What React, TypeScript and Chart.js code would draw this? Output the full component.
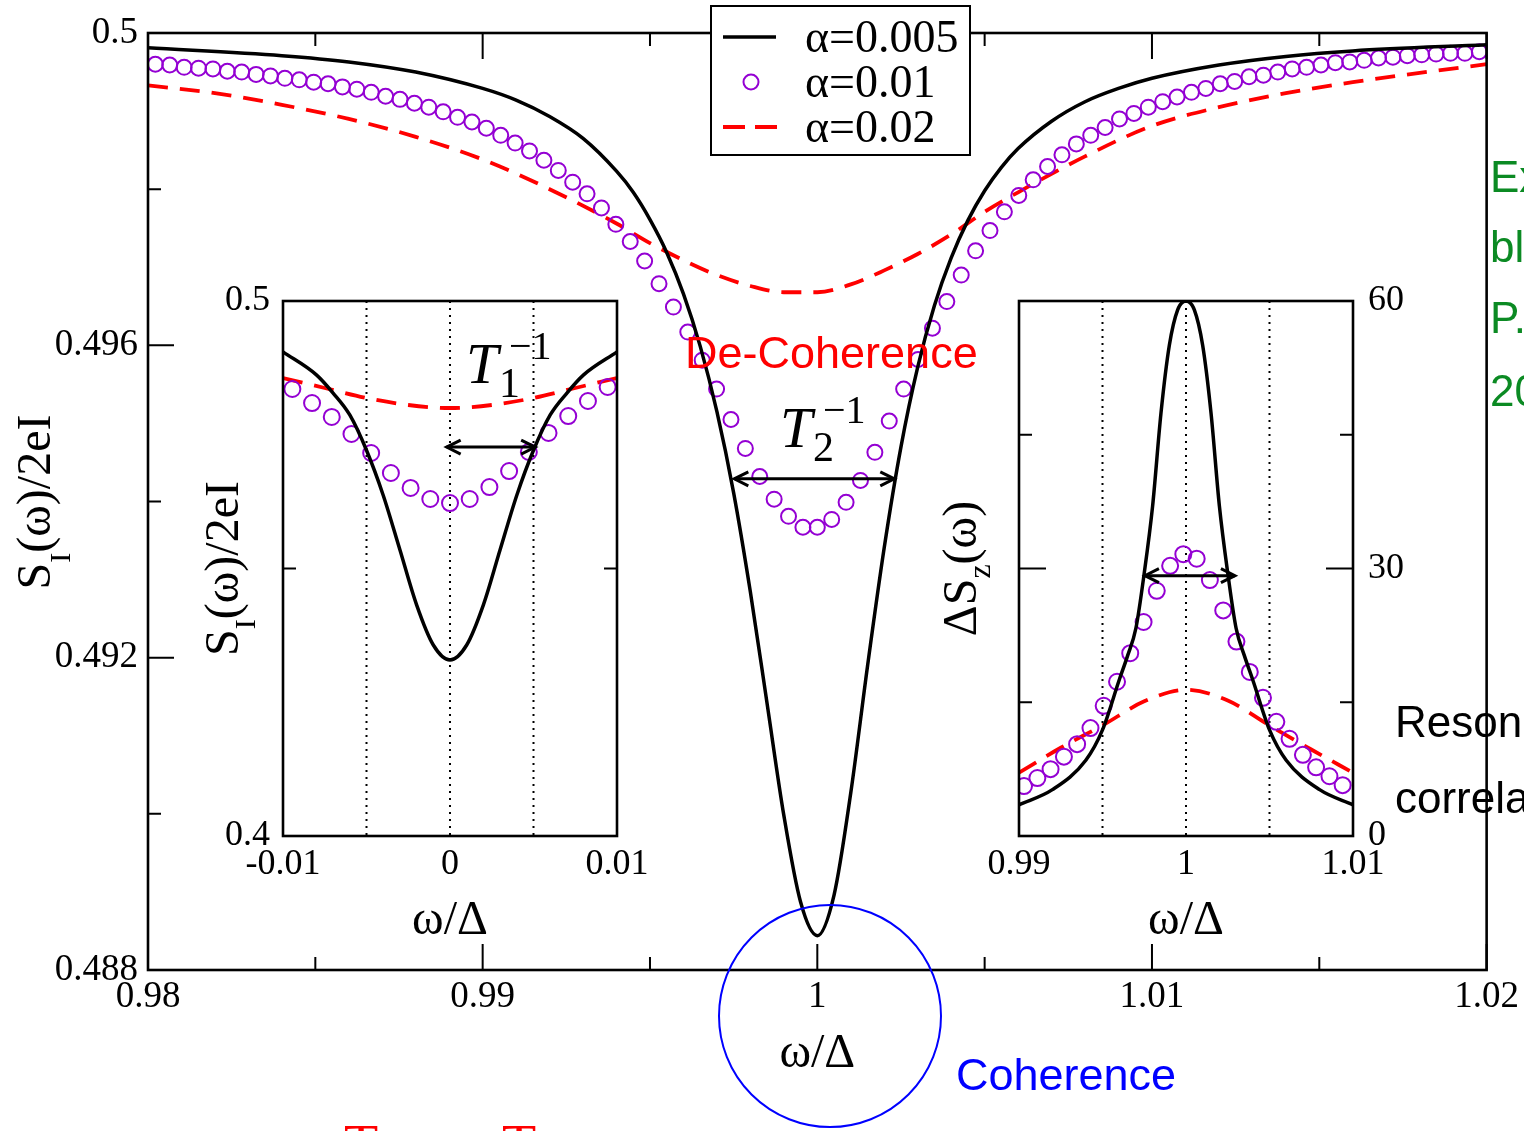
import React, { useEffect, useRef } from "react";
import { Chart, registerables } from "chart.js";

Chart.register(...registerables);

const SERIF = "'Liberation Serif', 'Times New Roman', Times, serif";
const SANS = "'Liberation Sans', Arial, Helvetica, sans-serif";
const PURPLE = "#9400d3";
const RED = "#ff0000";
const GREEN = "#0b8a23";

// ---------------- main panel ----------------
const mainXTicks = [0.98, 0.99, 1.0, 1.01, 1.02];
const mainXTickLabels = ["0.98", "0.99", "1", "1.01", "1.02"];
const mainXMinor = [0.985, 0.995, 1.005, 1.015];
const mainYTicks = [0.488, 0.492, 0.496, 0.5];
const mainYTickLabels = ["0.488", "0.492", "0.496", "0.5"];
const mainYMinor = [0.49, 0.494, 0.498];

// alpha = 0.005 (solid black)
const blackX = [0.98, 0.984, 0.986, 0.988, 0.99, 0.991, 0.992, 0.993, 0.994, 0.9945, 0.995, 0.9955, 0.996, 0.9965, 0.997, 0.9975, 0.998, 0.9985, 0.999, 0.9995, 1.0,
  1.0005, 1.001, 1.0015, 1.002, 1.0025, 1.003, 1.0035, 1.004, 1.0045, 1.005, 1.0055, 1.006, 1.007, 1.008, 1.009, 1.01, 1.012, 1.014, 1.016, 1.02];
const blackY = [0.49981, 0.49971, 0.49963, 0.4995, 0.49929, 0.49914, 0.49893, 0.49865, 0.49823, 0.49796, 0.49761, 0.49719, 0.49666, 0.49599, 0.49515, 0.49411, 0.49284, 0.49141, 0.48998, 0.48887, 0.48844,
  0.48896, 0.49027, 0.49189, 0.49341, 0.4947, 0.49572, 0.49651, 0.49712, 0.4976, 0.49798, 0.49828, 0.49852, 0.49887, 0.49912, 0.49929, 0.49942, 0.49959, 0.4997, 0.49977, 0.49985];

// alpha = 0.01 (violet circles)
const circleX = [
  0.98022, 0.98065, 0.98108, 0.98151, 0.98194, 0.98237, 0.9828, 0.98323, 0.98366, 0.98409,
  0.98452, 0.98495, 0.98538, 0.98581, 0.98624, 0.98667, 0.9871, 0.98753, 0.98796, 0.98839,
  0.98882, 0.98925, 0.98968, 0.99011, 0.99054, 0.99097, 0.9914, 0.99183, 0.99226, 0.99269,
  0.99312, 0.99355, 0.99398, 0.99441, 0.99484, 0.99527, 0.9957, 0.99613, 0.99656, 0.99699,
  0.99742, 0.99785, 0.99828, 0.99871, 0.99914, 0.99957, 1.0, 1.00043, 1.00086, 1.00129,
  1.00172, 1.00215, 1.00258, 1.00301, 1.00344, 1.00387, 1.0043, 1.00473, 1.00516, 1.00559,
  1.00602, 1.00645, 1.00688, 1.00731, 1.00774, 1.00817, 1.0086, 1.00903, 1.00946, 1.00989,
  1.01032, 1.01075, 1.01118, 1.01161, 1.01204, 1.01247, 1.0129, 1.01333, 1.01376, 1.01419,
  1.01462, 1.01505, 1.01548, 1.01591, 1.01634, 1.01677, 1.0172, 1.01763, 1.01806, 1.01849,
  1.01892, 1.01935, 1.01978,
];
const circleY = [
  0.4996, 0.49959, 0.49956, 0.49955, 0.49954, 0.49951, 0.4995, 0.49947, 0.49945, 0.49942,
  0.4994, 0.49937, 0.49935, 0.49931, 0.49928, 0.49924, 0.49919, 0.49915, 0.4991, 0.49905,
  0.49899, 0.49892, 0.49886, 0.49878, 0.49869, 0.49859, 0.49849, 0.49837, 0.49824, 0.49809,
  0.49794, 0.49776, 0.49755, 0.49733, 0.49708, 0.49679, 0.49649, 0.49617, 0.49581, 0.49544,
  0.49505, 0.49468, 0.49432, 0.49403, 0.49381, 0.49367, 0.49367, 0.49377, 0.49399, 0.49427,
  0.49463, 0.49503, 0.49544, 0.49582, 0.49622, 0.49656, 0.4969, 0.49721, 0.49747, 0.49771,
  0.49792, 0.49812, 0.49829, 0.49844, 0.49858, 0.49869, 0.49879, 0.4989, 0.49897, 0.49905,
  0.49912, 0.49918, 0.49924, 0.49929, 0.49935, 0.49938, 0.49944, 0.49946, 0.4995, 0.49954,
  0.49956, 0.49959, 0.49962, 0.49963, 0.49965, 0.49968, 0.49969, 0.49971, 0.49972, 0.49973,
  0.49974, 0.49974, 0.49976,
];

// alpha = 0.02 (red dashed)
const redX = [0.98, 0.982, 0.984, 0.986, 0.988, 0.99, 0.992, 0.994, 0.995, 0.996, 0.997, 0.998, 0.999, 1.0,
  1.001, 1.002, 1.003, 1.004, 1.005, 1.006, 1.008, 1.01, 1.012, 1.014, 1.016, 1.018, 1.02];
const redY = [0.49933, 0.49923, 0.49908, 0.4989, 0.49867, 0.49838, 0.498, 0.49756, 0.49731, 0.49709, 0.4969, 0.49676, 0.49668, 0.49668,
  0.49678, 0.49696, 0.49717, 0.49742, 0.49771, 0.49796, 0.49842, 0.49881, 0.49905, 0.49923, 0.49937, 0.49949, 0.4996];

const legendLabels = ["α=0.005", "α=0.01", "α=0.02"];
// T2^-1 arrow: [x from, x to, y]
const t2Arrow = [0.99752, 1.0023, 0.49429];

// ---------------- left inset ----------------
const lxTicks = [-0.01, 0, 0.01];
const lxTickLabels = ["-0.01", "0", "0.01"];
const lyTicks = [0.4, 0.5];
const lyTickLabels = ["0.4", "0.5"];
const lyMinor = [0.45];
const lDotted = [-0.005, 0, 0.005];

const lBlackX = [-0.01, -0.008, -0.007, -0.006, -0.005, -0.004, -0.003, -0.002, -0.001, 0, 0.001, 0.002, 0.003, 0.004, 0.005, 0.006, 0.007, 0.008, 0.01];
const lBlackY = [0.4905, 0.4862, 0.4828, 0.4787, 0.4721, 0.4637, 0.4535, 0.4432, 0.4357, 0.4329, 0.4357, 0.4432, 0.4535, 0.4637, 0.4721, 0.4787, 0.4828, 0.4862, 0.4905];
const lCircleX = [-0.00944, -0.00826, -0.00708, -0.0059, -0.00472, -0.00354, -0.00236, -0.00118, 0, 0.00118, 0.00236, 0.00354, 0.00472, 0.0059, 0.00708, 0.00826, 0.00944];
const lCircleY = [0.48355, 0.48093, 0.47832, 0.47514, 0.47159, 0.46785, 0.46505, 0.46299, 0.46224, 0.46299, 0.46523, 0.46822, 0.47178, 0.47533, 0.4785, 0.48131, 0.48393];
const lRedX = [-0.01, -0.0075, -0.005, -0.0025, 0, 0.0025, 0.005, 0.0075, 0.01];
const lRedY = [0.48561, 0.48374, 0.48187, 0.48056, 0.48, 0.48056, 0.48187, 0.48374, 0.48561];
const t1Arrow = [-0.0002, 0.0051, 0.4727];

// ---------------- right inset ----------------
const rxTicks = [0.99, 1.0, 1.01];
const rxTickLabels = ["0.99", "1", "1.01"];
const ryTicks = [0, 30, 60];
const ryTickLabels = ["0", "30", "60"];
const ryMinor = [15, 45];
const rDotted = [0.995, 1.0, 1.005];

const rBlackX = [0.99, 0.992, 0.994, 0.995, 0.996, 0.9965, 0.997, 0.9975, 0.998, 0.9985, 0.999, 0.9995, 1.0,
  1.0005, 1.001, 1.0015, 1.002, 1.0025, 1.003, 1.0035, 1.004, 1.005, 1.006, 1.008, 1.01];
const rBlackY = [3.5, 5.2, 8.5, 11.9, 17.5, 20.2, 23.3, 29.5, 37.0, 47.4, 55.0, 59.0, 60,
  59.0, 55.0, 47.4, 37.0, 29.5, 23.3, 20.2, 17.5, 11.9, 8.5, 5.2, 3.5];
const rCircleX = [0.9903, 0.9911, 0.99189, 0.99269, 0.99348, 0.99428, 0.99507, 0.99587, 0.99666, 0.99746, 0.99825, 0.99905, 0.99984,
  1.00064, 1.00143, 1.00223, 1.00302, 1.00382, 1.00461, 1.00541, 1.0062, 1.007, 1.00779, 1.00859, 1.00938];
const rCircleY = [5.6, 6.5, 7.5, 8.9, 10.3, 12.1, 14.6, 17.3, 20.5, 24.0, 27.5, 30.3, 31.6,
  31.1, 28.7, 25.3, 21.8, 18.4, 15.5, 12.8, 10.9, 9.1, 7.7, 6.7, 5.7];
const rRedX = [0.99, 0.9925, 0.995, 0.9975, 1.0, 1.0025, 1.005, 1.0075, 1.01];
const rRedY = [7.1, 9.9, 12.4, 15.1, 16.4, 15.2, 12.4, 9.7, 7.1];
const rArrow = [0.99754, 1.00293, 29.2];

// ---------------- helpers ----------------
const pts = (xs: number[], ys: number[]) => xs.map((x, i) => ({ x, y: ys[i] }));

type Part = { t: string; font: string; dy?: number; dx?: number };
function drawParts(ctx: CanvasRenderingContext2D, parts: Part[], x: number, y: number, align: "left" | "center") {
  ctx.textAlign = "left";
  ctx.textBaseline = "alphabetic";
  let w = 0;
  for (const p of parts) {
    ctx.font = p.font;
    w += ctx.measureText(p.t).width + (p.dx || 0);
  }
  let cx = align === "center" ? x - w / 2 : x;
  for (const p of parts) {
    ctx.font = p.font;
    cx += p.dx || 0;
    ctx.fillText(p.t, cx, y + (p.dy || 0));
    cx += ctx.measureText(p.t).width;
  }
}

function drawArrow(ctx: CanvasRenderingContext2D, x1: number, x2: number, y: number) {
  ctx.save();
  ctx.strokeStyle = "#000";
  ctx.lineWidth = 3;
  ctx.setLineDash([]);
  ctx.beginPath();
  ctx.moveTo(x1, y);
  ctx.lineTo(x2, y);
  ctx.stroke();
  const h = 14, w = 7;
  ctx.beginPath();
  ctx.moveTo(x1 + h, y - w);
  ctx.lineTo(x1, y);
  ctx.lineTo(x1 + h, y + w);
  ctx.moveTo(x2 - h, y - w);
  ctx.lineTo(x2, y);
  ctx.lineTo(x2 - h, y + w);
  ctx.stroke();
  ctx.restore();
}

function linearScale(o: {
  min: number; max: number; ticks: number[]; labels: string[]; size: number; horiz: boolean;
  fontSize: number; padding: number; position?: string;
}) {
  return {
    type: "linear",
    min: o.min,
    max: o.max,
    position: o.position ?? (o.horiz ? "bottom" : "left"),
    grid: { display: false, drawTicks: false },
    border: { display: false },
    afterBuildTicks: (s: any) => {
      s.ticks = o.ticks.map((v) => ({ value: v }));
    },
    afterFit: (s: any) => {
      if (o.horiz) s.height = o.size;
      else s.width = o.size;
    },
    ticks: {
      autoSkip: false,
      maxRotation: 0,
      minRotation: 0,
      padding: o.padding,
      color: "#000",
      font: { family: SERIF, size: o.fontSize },
      callback: (_v: any, i: number) => o.labels[i],
    },
  };
}

type FrameCfg = {
  xBottom: [number, number][];
  xTop: [number, number][];
  yLeft: [number, number][];
  yRight: [number, number][];
  dotted: number[];
  extra: (chart: any) => void;
};

function framePlugin(id: string, cfg: FrameCfg) {
  return {
    id,
    beforeDatasetsDraw(chart: any) {
      const { ctx, chartArea: a, scales } = chart;
      ctx.save();
      ctx.strokeStyle = "#000";
      ctx.lineWidth = 2;
      ctx.setLineDash([2, 5]);
      for (const v of cfg.dotted) {
        const px = scales.x.getPixelForValue(v);
        ctx.beginPath();
        ctx.moveTo(px, a.top);
        ctx.lineTo(px, a.bottom);
        ctx.stroke();
      }
      ctx.restore();
    },
    afterDatasetsDraw(chart: any) {
      const { ctx, chartArea: a, scales } = chart;
      ctx.save();
      ctx.strokeStyle = "#000";
      ctx.setLineDash([]);
      ctx.lineWidth = 2;
      ctx.beginPath();
      for (const [v, len] of cfg.xBottom) {
        const px = scales.x.getPixelForValue(v);
        ctx.moveTo(px, a.bottom);
        ctx.lineTo(px, a.bottom - len);
      }
      for (const [v, len] of cfg.xTop) {
        const px = scales.x.getPixelForValue(v);
        ctx.moveTo(px, a.top);
        ctx.lineTo(px, a.top + len);
      }
      for (const [v, len] of cfg.yLeft) {
        const py = scales.y.getPixelForValue(v);
        ctx.moveTo(a.left, py);
        ctx.lineTo(a.left + len, py);
      }
      for (const [v, len] of cfg.yRight) {
        const py = scales.y.getPixelForValue(v);
        ctx.moveTo(a.right, py);
        ctx.lineTo(a.right - len, py);
      }
      ctx.stroke();
      ctx.lineWidth = 2.6;
      ctx.strokeRect(a.left, a.top, a.right - a.left, a.bottom - a.top);
      ctx.restore();
    },
    afterDraw(chart: any) {
      const ctx = chart.ctx;
      ctx.save();
      cfg.extra(chart);
      ctx.restore();
    },
  };
}

function datasets(bx: number[], by: number[], cx: number[], cy: number[], rx: number[], ry: number[], r: number) {
  return [
    {
      label: legendLabels[0],
      data: pts(bx, by),
      borderColor: "#000",
      borderWidth: 3.5,
      pointRadius: 0,
      cubicInterpolationMode: "monotone",
      fill: false,
    },
    {
      label: legendLabels[1],
      data: pts(cx, cy),
      showLine: false,
      pointRadius: r,
      pointStyle: "circle",
      pointBorderColor: PURPLE,
      pointBackgroundColor: "rgba(0,0,0,0)",
      pointBorderWidth: 2,
    },
    {
      label: legendLabels[2],
      data: pts(rx, ry),
      borderColor: RED,
      borderWidth: 3.8,
      borderDash: [20, 12],
      pointRadius: 0,
      cubicInterpolationMode: "monotone",
      fill: false,
    },
  ];
}

const commonOptions = {
  responsive: false,
  animation: false,
  devicePixelRatio: 1,
  events: [],
  plugins: { legend: { display: false }, tooltip: { enabled: false } },
};

function supLabel(ctx: CanvasRenderingContext2D, sub: string, x: number, y: number) {
  ctx.fillStyle = "#000";
  ctx.textAlign = "left";
  ctx.textBaseline = "alphabetic";
  ctx.font = `italic 58px ${SERIF}`;
  ctx.fillText("T", x, y);
  ctx.font = `42px ${SERIF}`;
  ctx.fillText(sub, x + 33, y + 14);
  ctx.font = `40px ${SERIF}`;
  ctx.fillText("−1", x + 43, y - 24);
}

function mainExtra(chart: any) {
  const { ctx, chartArea: a, scales } = chart;
  const { x, y } = scales;
  ctx.fillStyle = "#000";

  // y title
  ctx.save();
  ctx.translate(50, 502);
  ctx.rotate(-Math.PI / 2);
  drawParts(ctx, [
    { t: "S", font: `48px ${SERIF}` },
    { t: "I", font: `30px ${SERIF}`, dy: 20 },
    { t: "(ω)/2eI", font: `48px ${SERIF}` },
  ], 0, 0, "center");
  ctx.restore();

  // x title
  ctx.font = `48px ${SERIF}`;
  ctx.textAlign = "center";
  ctx.textBaseline = "alphabetic";
  ctx.fillText("ω/Δ", (a.left + a.right) / 2, 1067);

  // T2 arrow + label
  drawArrow(ctx, x.getPixelForValue(t2Arrow[0]), x.getPixelForValue(t2Arrow[1]), y.getPixelForValue(t2Arrow[2]));
  supLabel(ctx, "2", 780, 447);

  // De-Coherence
  ctx.fillStyle = RED;
  ctx.textAlign = "left";
  ctx.font = `45px ${SANS}`;
  ctx.fillText("De-Coherence", 685, 368);

  // Coherence + circle
  ctx.fillStyle = "#0000ff";
  ctx.fillText("Coherence", 956, 1090);
  ctx.strokeStyle = "#0000ff";
  ctx.lineWidth = 2;
  ctx.beginPath();
  ctx.arc(830, 1016, 111, 0, Math.PI * 2);
  ctx.stroke();

  // cut-off side notes
  ctx.fillStyle = GREEN;
  ctx.font = `44px ${SANS}`;
  ctx.fillText("Exp", 1490, 192);
  ctx.fillText("blo", 1490, 262);
  ctx.fillText("P.", 1490, 333);
  ctx.fillText("20", 1490, 406);
  ctx.fillStyle = "#000";
  ctx.fillText("Resonant", 1395, 737);
  ctx.fillText("correlation", 1395, 813);

  // red T tops at the bottom edge
  ctx.fillStyle = RED;
  ctx.font = `56px ${SERIF}`;
  ctx.fillText("T", 344, 1164);
  ctx.fillText("T", 502, 1164);

  // legend
  ctx.fillStyle = "#fff";
  ctx.fillRect(711, 6, 259, 149);
  ctx.strokeStyle = "#000";
  ctx.lineWidth = 2;
  ctx.setLineDash([]);
  ctx.strokeRect(711, 6, 259, 149);
  ctx.lineWidth = 3.5;
  ctx.beginPath();
  ctx.moveTo(723, 37);
  ctx.lineTo(776, 37);
  ctx.stroke();
  ctx.strokeStyle = PURPLE;
  ctx.lineWidth = 2;
  ctx.beginPath();
  ctx.arc(751, 82, 7.5, 0, Math.PI * 2);
  ctx.stroke();
  ctx.strokeStyle = RED;
  ctx.lineWidth = 3.8;
  ctx.setLineDash([22, 10]);
  ctx.beginPath();
  ctx.moveTo(723, 127);
  ctx.lineTo(777, 127);
  ctx.stroke();
  ctx.setLineDash([]);
  ctx.fillStyle = "#000";
  ctx.font = `46px ${SERIF}`;
  ctx.textAlign = "left";
  ctx.fillText(legendLabels[0], 805, 52);
  ctx.fillText(legendLabels[1], 805, 97);
  ctx.fillText(legendLabels[2], 805, 142);
}

function leftExtra(chart: any) {
  const { ctx, chartArea: a, scales } = chart;
  const { x, y } = scales;
  ctx.fillStyle = "#000";
  ctx.save();
  ctx.translate(238, (a.top + a.bottom) / 2);
  ctx.rotate(-Math.PI / 2);
  drawParts(ctx, [
    { t: "S", font: `48px ${SERIF}` },
    { t: "I", font: `30px ${SERIF}`, dy: 17 },
    { t: "(ω)/2eI", font: `48px ${SERIF}` },
  ], 0, 0, "center");
  ctx.restore();
  ctx.font = `48px ${SERIF}`;
  ctx.textAlign = "center";
  ctx.textBaseline = "alphabetic";
  ctx.fillText("ω/Δ", (a.left + a.right) / 2, 934);

  drawArrow(ctx, x.getPixelForValue(t1Arrow[0]), x.getPixelForValue(t1Arrow[1]), y.getPixelForValue(t1Arrow[2]));
  supLabel(ctx, "1", 466, 383);
}

function rightExtra(chart: any) {
  const { ctx, chartArea: a, scales } = chart;
  const { x, y } = scales;
  ctx.fillStyle = "#000";
  ctx.save();
  ctx.translate(976, (a.top + a.bottom) / 2);
  ctx.rotate(-Math.PI / 2);
  drawParts(ctx, [
    { t: "ΔS", font: `48px ${SERIF}` },
    { t: "z", font: `32px ${SERIF}`, dy: 14 },
    { t: "(ω)", font: `48px ${SERIF}` },
  ], 0, 0, "center");
  ctx.restore();
  ctx.font = `48px ${SERIF}`;
  ctx.textAlign = "center";
  ctx.textBaseline = "alphabetic";
  ctx.fillText("ω/Δ", (a.left + a.right) / 2, 934);
  drawArrow(ctx, x.getPixelForValue(rArrow[0]), x.getPixelForValue(rArrow[1]), y.getPixelForValue(rArrow[2]));
}

function mainConfig(): any {
  return {
    type: "line",
    data: { datasets: datasets(blackX, blackY, circleX, circleY, redX, redY, 7.5) },
    options: {
      ...commonOptions,
      layout: { padding: { left: 0, top: 33, right: 36, bottom: 0 } },
      scales: {
        x: linearScale({ min: 0.98, max: 1.02, ticks: mainXTicks, labels: mainXTickLabels, size: 161, horiz: true, fontSize: 37, padding: 5 }),
        y: linearScale({ min: 0.488, max: 0.5, ticks: mainYTicks, labels: mainYTickLabels, size: 148, horiz: false, fontSize: 37, padding: 10 }),
      },
    },
    plugins: [
      framePlugin("mainFrame", {
        xBottom: [...mainXTicks.map((v) => [v, 26] as [number, number]), ...mainXMinor.map((v) => [v, 13] as [number, number])],
        xTop: [...mainXTicks.map((v) => [v, 26] as [number, number]), ...mainXMinor.map((v) => [v, 13] as [number, number])],
        yLeft: [...mainYTicks.map((v) => [v, 26] as [number, number]), ...mainYMinor.map((v) => [v, 13] as [number, number])],
        yRight: [],
        dotted: [],
        extra: mainExtra,
      }),
    ],
  };
}

function leftConfig(): any {
  return {
    type: "line",
    data: { datasets: datasets(lBlackX, lBlackY, lCircleX, lCircleY, lRedX, lRedY, 8) },
    options: {
      ...commonOptions,
      layout: { padding: { left: 0, top: 301, right: 907, bottom: 0 } },
      scales: {
        x: linearScale({ min: -0.01, max: 0.01, ticks: lxTicks, labels: lxTickLabels, size: 295, horiz: true, fontSize: 36, padding: 7 }),
        y: linearScale({ min: 0.4, max: 0.5, ticks: lyTicks, labels: lyTickLabels, size: 283, horiz: false, fontSize: 36, padding: 13 }),
      },
    },
    plugins: [
      framePlugin("leftFrame", {
        xBottom: [],
        xTop: [],
        yLeft: lyMinor.map((v) => [v, 13] as [number, number]),
        yRight: lyMinor.map((v) => [v, 13] as [number, number]),
        dotted: lDotted,
        extra: leftExtra,
      }),
    ],
  };
}

function rightConfig(): any {
  return {
    type: "line",
    data: { datasets: datasets(rBlackX, rBlackY, rCircleX, rCircleY, rRedX, rRedY, 8) },
    options: {
      ...commonOptions,
      layout: { padding: { left: 1019, top: 301, right: 0, bottom: 0 } },
      scales: {
        x: linearScale({ min: 0.99, max: 1.01, ticks: rxTicks, labels: rxTickLabels, size: 295, horiz: true, fontSize: 36, padding: 7 }),
        y: linearScale({ min: 0, max: 60, ticks: ryTicks, labels: ryTickLabels, size: 171, horiz: false, fontSize: 36, padding: 15, position: "right" }),
      },
    },
    plugins: [
      framePlugin("rightFrame", {
        xBottom: [],
        xTop: [],
        yLeft: [[ryMinor[0], 13], [30, 27], [ryMinor[1], 13]],
        yRight: [[ryMinor[0], 13], [30, 27], [ryMinor[1], 13]],
        dotted: rDotted,
        extra: rightExtra,
      }),
    ],
  };
}

export default function App() {
  const mainRef = useRef<HTMLCanvasElement>(null);
  const leftRef = useRef<HTMLCanvasElement>(null);
  const rightRef = useRef<HTMLCanvasElement>(null);

  useEffect(() => {
    const charts: Chart[] = [];
    if (mainRef.current) charts.push(new Chart(mainRef.current, mainConfig()));
    if (leftRef.current) charts.push(new Chart(leftRef.current, leftConfig()));
    if (rightRef.current) charts.push(new Chart(rightRef.current, rightConfig()));
    return () => charts.forEach((c) => c.destroy());
  }, []);

  const cs: React.CSSProperties = { position: "absolute", left: 0, top: 0, width: 1524, height: 1131 };
  return (
    <div style={{ position: "absolute", left: 0, top: 0, width: 1524, height: 1131, background: "#fff", overflow: "hidden" }}>
      <canvas ref={mainRef} width={1524} height={1131} style={cs} />
      <canvas ref={leftRef} width={1524} height={1131} style={cs} />
      <canvas ref={rightRef} width={1524} height={1131} style={cs} />
    </div>
  );
}
